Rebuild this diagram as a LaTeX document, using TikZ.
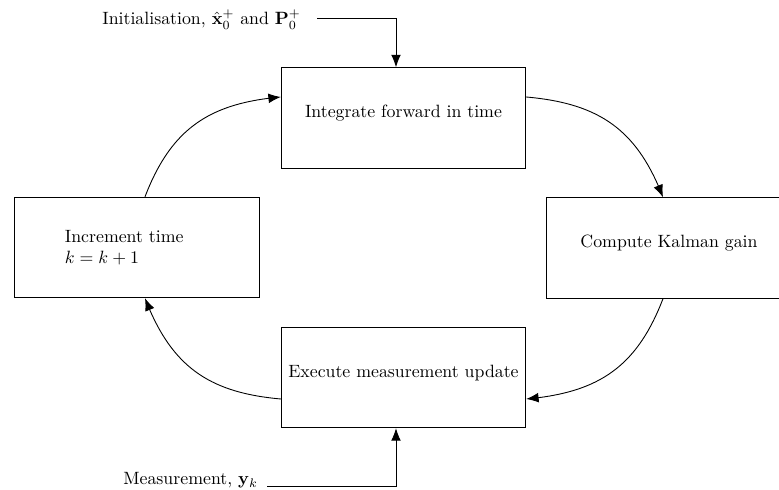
\documentclass[tikz,border=0pt]{standalone}
\usetikzlibrary{arrows.meta,bending}
\begin{document}
\begin{tikzpicture}[x=0.5618pt,y=0.5618pt,
  box/.style={draw, line width=0.5pt, minimum width=137.3pt, minimum height=56.5pt},
  stage/.style={box, text height=1.5ex, text depth=1.5ex},
  flow/.style={line width=0.5pt, -{Latex[length=7pt,width=5.5pt]}},
  note/.style={inner sep=0pt, anchor=base west}]
\clip (0,0) rectangle (779,490);

% the four stages of the filter loop
\node[stage] (integrate) at (403.5,372) {Integrate forward in time};
\node[stage] (gain) at (669,242) {Compute Kalman gain};
\node[stage] (update) at (403.5,112.5) {Execute measurement update};
\node[box, align=left, text width=81pt, inner xsep=28.1pt] (increment) at (137,242.5)
  {Increment time\\ $k=k+1$};

% attachment points of the loop connectors
\coordinate (integrate-w) at (integrate.west |- 0,393);
\coordinate (integrate-e) at (integrate.east |- 0,393);
\coordinate (gain-n) at (663,0 |- gain.north);
\coordinate (gain-s) at (663,0 |- gain.south);
\coordinate (update-e) at (update.east |- 0,91);
\coordinate (update-w) at (update.west |- 0,91);
\coordinate (increment-s) at (145,0 |- increment.south);
\coordinate (increment-n) at (145,0 |- increment.north);

% loop connectors
\draw[flow] (integrate-e) to[out=-5, in=111, looseness=1.1] (gain-n);
\draw[flow] (gain-s) to[out=249, in=5, looseness=1.1] (update-e);
\draw[flow] (update-w) to[out=175, in=291, looseness=1.1] (increment-s);
\draw[flow] (increment-n) to[out=69, in=185, looseness=1.1] (integrate-w);

% inputs
\node[note] (init) at (102,465) {Initialisation, $\hat{\mathbf{x}}_0^+$ and $\mathbf{P}_0^+$};
\coordinate (init-line) at (317,472);
\coordinate (integrate-in) at (396,0 |- integrate.north);
\draw[flow] (init-line) -| (integrate-in);

\node[note] (meas) at (123,5) {Measurement, $\mathbf{y}_k$};
\coordinate (meas-line) at (267,4);
\coordinate (update-in) at (396,0 |- update.south);
\draw[flow] (meas-line) -| (update-in);
\end{tikzpicture}
\end{document}
